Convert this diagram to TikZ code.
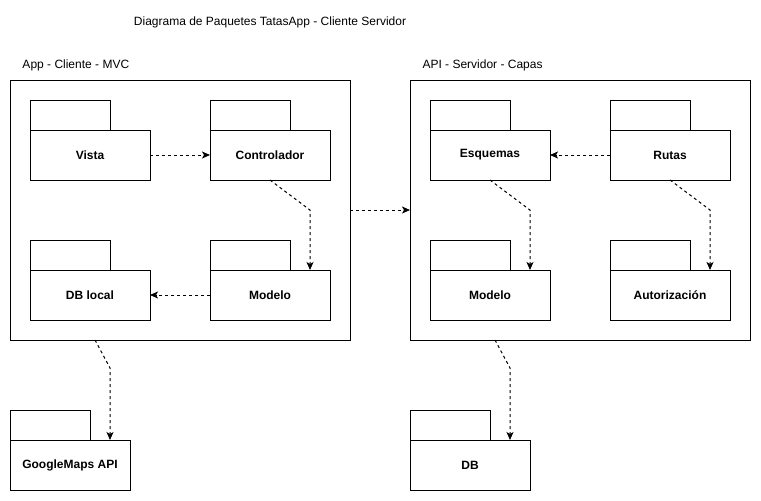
\documentclass[tikz,border=0pt]{standalone}
\usepackage{fontspec}
\setmainfont{Liberation Sans}
\usetikzlibrary{arrows.meta,positioning,calc}

\begin{document}
\begin{tikzpicture}[x=1pt,y=-1pt,line width=1pt,
  pkg/.style={draw,minimum width=120pt,minimum height=50pt,inner sep=0pt,outer sep=0pt,font=\bfseries\fontsize{12}{14}\selectfont},
  frame/.style={draw,minimum width=340pt,minimum height=260pt,inner sep=0pt,outer sep=0pt},
  lbl/.style={inner sep=0pt,font=\fontsize{12}{14}\selectfont},
  dep/.style={-{Stealth[length=8pt,width=7pt,inset=2pt]},dash pattern=on 3pt off 3pt},
  node distance=60pt]
\useasboundingbox (0,0) rectangle (761,501);
\node[lbl] (title) at (270,22) {Diagrama de Paquetes TatasApp - Cliente Servidor};
% cliente
\node[frame] (app) at (180,210) {};
\node[lbl,anchor=west] (applbl) at (22,65) {App - Cliente - MVC};
\node[pkg] (vista) at (90,155) {Vista};
\node[pkg,right=of vista] (ctrl) {Controlador};
\node[pkg,below=90pt of vista] (dbl) {DB local};
\node[pkg,right=of dbl] (mod) {Modelo};
% servidor
\node[frame,right=of app] (api) {};
\node[lbl,anchor=west] (apilbl) at (422,65) {API - Servidor - Capas};
\node[pkg] (esq) at (490,155) {Esquemas};
\node[pkg,right=of esq] (rutas) {Rutas};
\node[pkg,below=90pt of esq] (modapi) {Modelo};
\node[pkg,right=of modapi] (auth) {Autorización};
% externos
\node[pkg] (gmaps) at (70,465) {GoogleMaps API};
\node[pkg] (db) at (470,465) {DB};
\foreach \p in {vista,ctrl,dbl,mod,esq,rutas,modapi,auth,gmaps,db}
  \draw (\p.north west) rectangle ++(80,-30);
% dependencias
\coordinate (b1) at ($(ctrl.south)+(40,30)$);
\coordinate (b2) at ($(esq.south)+(40,30)$);
\coordinate (b3) at ($(rutas.south)+(40,30)$);
\coordinate (s4) at ($(app.south west)+(85,0)$);
\coordinate (b4) at ($(s4)+(15,28)$);
\coordinate (s5) at ($(api.south west)+(85,0)$);
\coordinate (b5) at ($(s5)+(15,28)$);
\draw[dep] (vista) -- (ctrl);
\draw[dep] (mod) -- (dbl);
\draw[dep] (ctrl.south) -- (b1) -- (b1 |- mod.north);
\draw[dep] (rutas) -- (esq);
\draw[dep] (esq.south) -- (b2) -- (b2 |- modapi.north);
\draw[dep] (rutas.south) -- (b3) -- (b3 |- auth.north);
\draw[dep] (app) -- (api);
\draw[dep] (s4) -- (b4) -- (b4 |- gmaps.north);
\draw[dep] (s5) -- (b5) -- (b5 |- db.north);
\end{tikzpicture}
\end{document}
